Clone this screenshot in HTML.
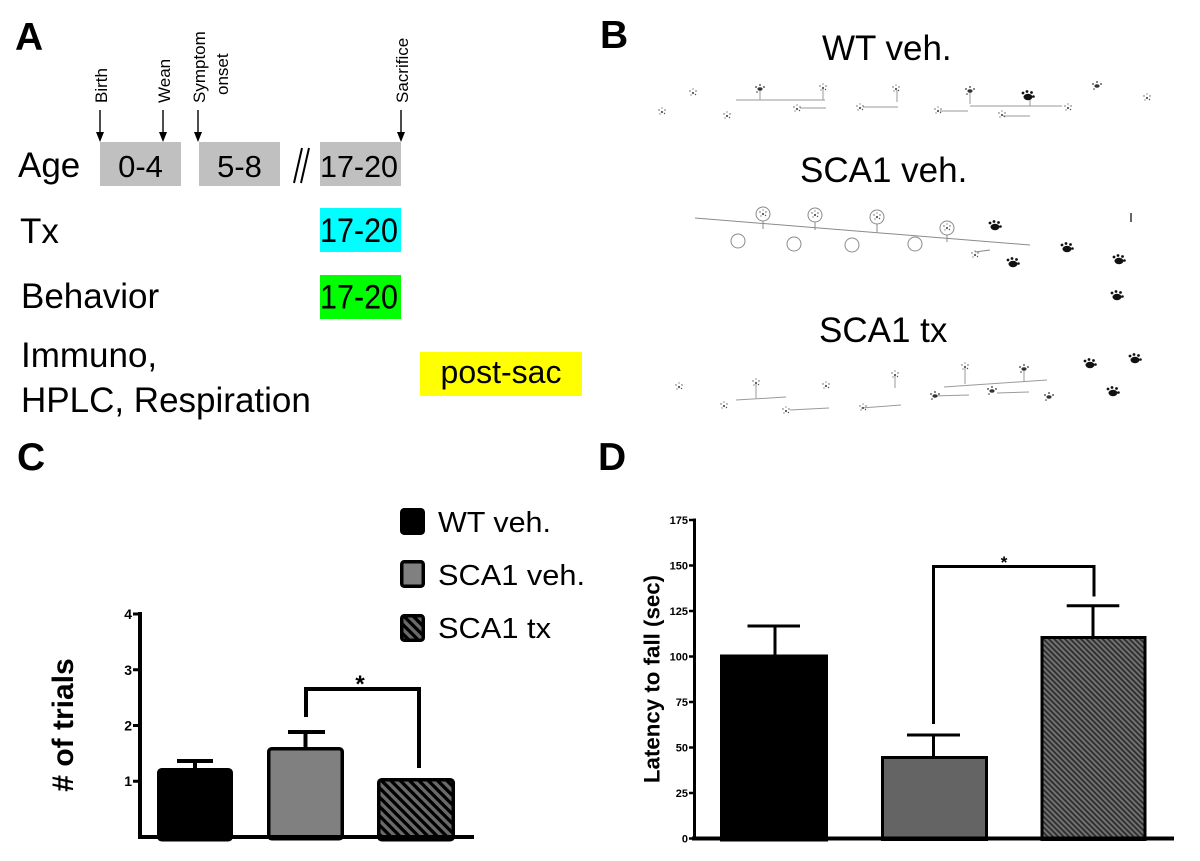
<!DOCTYPE html>
<html>
<head>
<meta charset="utf-8">
<style>
  html,body{margin:0;padding:0;background:#fff;}
  svg{display:block;}
  text{font-family:"Liberation Sans",Arial,sans-serif;}
</style>
</head>
<body>
<svg width="1200" height="861" viewBox="0 0 1200 861" xmlns="http://www.w3.org/2000/svg">
  <defs>
    <pattern id="hC" patternUnits="userSpaceOnUse" width="6.6" height="10" patternTransform="rotate(-45)">
      <rect width="6.6" height="10" fill="#6a6a6a"/>
      <rect width="3.3" height="10" fill="#000"/>
    </pattern>
    <pattern id="hD" patternUnits="userSpaceOnUse" width="3.8" height="10" patternTransform="rotate(-45)">
      <rect width="3.8" height="10" fill="#727272"/>
      <rect width="1.9" height="10" fill="#303030"/>
    </pattern>
    <g id="pawL" fill="#555">
      <circle cx="0" cy="0" r="1.1"/>
      <circle cx="-3" cy="-2" r="0.7"/>
      <circle cx="3" cy="-2" r="0.7"/>
      <circle cx="-2" cy="2" r="0.6"/>
      <circle cx="2.5" cy="1.5" r="0.7"/>
      <circle cx="0" cy="-4" r="0.6"/>
    </g>
    <g id="pawM" fill="#333">
      <ellipse cx="0" cy="0" rx="2.6" ry="1.7"/>
      <circle cx="-4" cy="-2" r="0.9"/>
      <circle cx="4" cy="-2" r="0.9"/>
      <circle cx="-3" cy="3" r="0.8"/>
      <circle cx="0" cy="-4" r="0.9"/>
    </g>
    <g id="pawD" fill="#111">
      <ellipse cx="0" cy="0" rx="4.5" ry="3.2"/>
      <circle cx="-5" cy="-4" r="1.4"/>
      <circle cx="-1" cy="-5.5" r="1.4"/>
      <circle cx="3.5" cy="-4.5" r="1.4"/>
      <circle cx="5.5" cy="-0.5" r="1.3"/>
    </g>
  </defs>

  <rect width="1200" height="861" fill="#fff"/>

  <!-- ================= PANEL A ================= -->
  <text x="15" y="50" font-size="39" font-weight="bold">A</text>

  <g font-size="17">
    <text transform="translate(107,103) rotate(-90)">Birth</text>
    <text transform="translate(170,103) rotate(-90)">Wean</text>
    <text transform="translate(205,103) rotate(-90)">Symptom</text>
    <text transform="translate(228,95) rotate(-90)">onset</text>
    <text transform="translate(408,103) rotate(-90)">Sacrifice</text>
  </g>
  <g stroke="#000" stroke-width="1.4">
    <line x1="100" y1="110" x2="100" y2="134"/>
    <line x1="163" y1="110" x2="163" y2="134"/>
    <line x1="198" y1="110" x2="198" y2="134"/>
    <line x1="401" y1="110" x2="401" y2="134"/>
  </g>
  <g fill="#000">
    <polygon points="96,132 104,132 100,142"/>
    <polygon points="159,132 167,132 163,142"/>
    <polygon points="194,132 202,132 198,142"/>
    <polygon points="397,132 405,132 401,142"/>
  </g>

  <text x="18" y="177" font-size="35">Age</text>
  <rect x="100" y="142" width="81" height="44" fill="#c0c0c0"/>
  <rect x="199" y="142" width="81" height="44" fill="#c0c0c0"/>
  <rect x="320" y="142" width="81" height="44" fill="#c0c0c0"/>
  <text x="140.5" y="177" font-size="31" text-anchor="middle">0-4</text>
  <text x="239.5" y="177" font-size="31" text-anchor="middle">5-8</text>
  <text x="320" y="177" font-size="31" textLength="78" lengthAdjust="spacingAndGlyphs">17-20</text>
  <g stroke="#000" stroke-width="2">
    <line x1="294" y1="183" x2="302" y2="148"/>
    <line x1="301" y1="183" x2="309" y2="148"/>
  </g>

  <text x="20" y="243" font-size="35">Tx</text>
  <rect x="320" y="208" width="81" height="44" fill="#00ffff"/>
  <text x="320" y="242" font-size="34" textLength="78" lengthAdjust="spacingAndGlyphs">17-20</text>

  <text x="21" y="308" font-size="35">Behavior</text>
  <rect x="320" y="275" width="81" height="44" fill="#00ff00"/>
  <text x="320" y="308.5" font-size="34" textLength="78" lengthAdjust="spacingAndGlyphs">17-20</text>

  <text x="21" y="367" font-size="35">Immuno,</text>
  <text x="21" y="412" font-size="35">HPLC, Respiration</text>
  <rect x="420" y="352" width="162" height="44" fill="#ffff00"/>
  <text x="501" y="383" font-size="32" text-anchor="middle">post-sac</text>

  <!-- ================= PANEL B ================= -->
  <text x="600" y="48" font-size="39" font-weight="bold">B</text>
  <text x="822" y="60" font-size="35">WT veh.</text>
  <text x="800" y="182" font-size="35">SCA1 veh.</text>
  <text x="819" y="342" font-size="35">SCA1 tx</text>

  <g stroke="#9a9a9a" stroke-width="1" fill="none">
    <line x1="736" y1="100" x2="825" y2="100"/>
    <line x1="800" y1="108" x2="826" y2="108"/>
    <line x1="863" y1="107" x2="898" y2="107"/>
    <line x1="940" y1="111" x2="968" y2="111"/>
    <line x1="970" y1="106" x2="1062" y2="106"/>
    <line x1="1003" y1="116" x2="1030" y2="116"/>
    <line x1="760" y1="90" x2="760" y2="100"/>
    <line x1="823" y1="88" x2="823" y2="100"/>
    <line x1="897" y1="90" x2="897" y2="102"/>
    <line x1="970" y1="92" x2="970" y2="104"/>
    <line x1="1030" y1="97" x2="1030" y2="106"/>
  </g>
  <use href="#pawM" x="760" y="89"/>
  <use href="#pawL" x="823" y="88"/>
  <use href="#pawL" x="896" y="89"/>
  <use href="#pawM" x="970" y="91"/>
  <use href="#pawD" x="1028" y="97"/>
  <use href="#pawM" x="1097" y="86"/>
  <use href="#pawL" x="1147" y="98"/>
  <use href="#pawL" x="693" y="93"/>
  <use href="#pawL" x="727" y="116"/>
  <use href="#pawL" x="662" y="112"/>
  <use href="#pawL" x="797" y="109"/>
  <use href="#pawL" x="860" y="108"/>
  <use href="#pawL" x="938" y="111"/>
  <use href="#pawL" x="1068" y="108"/>
  <use href="#pawL" x="1002" y="115"/>

  <g stroke="#8a8a8a" stroke-width="1" fill="none">
    <line x1="695" y1="218" x2="1030" y2="245"/>
    <circle cx="763" cy="214" r="7"/>
    <circle cx="815" cy="215" r="7"/>
    <circle cx="877" cy="217" r="7"/>
    <circle cx="947" cy="228" r="7"/>
    <circle cx="738" cy="241" r="7"/>
    <circle cx="794" cy="244" r="7"/>
    <circle cx="852" cy="245" r="7"/>
    <circle cx="915" cy="244" r="7"/>
    <line x1="763" y1="221" x2="763" y2="229"/>
    <line x1="815" y1="222" x2="815" y2="230"/>
    <line x1="877" y1="224" x2="877" y2="232"/>
    <line x1="947" y1="235" x2="947" y2="242"/>
    <line x1="975" y1="252" x2="990" y2="250"/>
  </g>
  <use href="#pawL" x="763" y="214"/>
  <use href="#pawL" x="815" y="215"/>
  <use href="#pawL" x="877" y="217"/>
  <use href="#pawL" x="947" y="228"/>
  <use href="#pawD" x="995" y="227"/>
  <use href="#pawL" x="975" y="255"/>
  <use href="#pawD" x="1013" y="264"/>
  <use href="#pawD" x="1067" y="249"/>
  <use href="#pawD" x="1119" y="261"/>
  <use href="#pawD" x="1117" y="297"/>
  <line x1="1131" y1="213" x2="1131" y2="222" stroke="#333" stroke-width="1.5"/>

  <g stroke="#9a9a9a" stroke-width="1" fill="none">
    <line x1="736" y1="400" x2="786" y2="397"/>
    <line x1="790" y1="410" x2="829" y2="408"/>
    <line x1="861" y1="408" x2="901" y2="405"/>
    <line x1="933" y1="396" x2="969" y2="395"/>
    <line x1="944" y1="387" x2="1047" y2="380"/>
    <line x1="997" y1="393" x2="1029" y2="392"/>
    <line x1="756" y1="383" x2="756" y2="398"/>
    <line x1="895" y1="375" x2="895" y2="388"/>
    <line x1="965" y1="367" x2="965" y2="384"/>
    <line x1="1024" y1="370" x2="1024" y2="382"/>
  </g>
  <use href="#pawL" x="679" y="387"/>
  <use href="#pawL" x="756" y="383"/>
  <use href="#pawL" x="724" y="406"/>
  <use href="#pawL" x="826" y="386"/>
  <use href="#pawL" x="786" y="411"/>
  <use href="#pawL" x="895" y="375"/>
  <use href="#pawL" x="863" y="408"/>
  <use href="#pawL" x="965" y="367"/>
  <use href="#pawM" x="935" y="396"/>
  <use href="#pawM" x="1024" y="369"/>
  <use href="#pawM" x="992" y="391"/>
  <use href="#pawM" x="1049" y="397"/>
  <use href="#pawD" x="1090" y="365"/>
  <use href="#pawD" x="1135" y="360"/>
  <use href="#pawD" x="1113" y="393"/>

  <!-- ================= PANEL C ================= -->
  <text x="17" y="470" font-size="39" font-weight="bold">C</text>

  <rect x="401.75" y="509.75" width="21.5" height="23.5" rx="2.5" fill="#000" stroke="#000" stroke-width="3.5"/>
  <rect x="401.75" y="561.75" width="21.5" height="24.5" rx="2.5" fill="#808080" stroke="#000" stroke-width="3.5"/>
  <rect x="401.75" y="615.75" width="21.5" height="24.5" rx="2.5" fill="url(#hC)" stroke="#000" stroke-width="3.5"/>
  <text x="438" y="532" font-size="29" textLength="113" lengthAdjust="spacingAndGlyphs">WT veh.</text>
  <text x="438" y="585" font-size="29" textLength="147" lengthAdjust="spacingAndGlyphs">SCA1 veh.</text>
  <text x="438" y="638" font-size="29" textLength="113" lengthAdjust="spacingAndGlyphs">SCA1 tx</text>

  <text transform="translate(73,725) rotate(-90)" font-size="30" font-weight="bold" text-anchor="middle"># of trials</text>

  <rect x="158.75" y="769.75" width="72.5" height="70" rx="3" fill="#000" stroke="#000" stroke-width="3.5"/>
  <rect x="268.75" y="748.75" width="73.5" height="90" rx="3" fill="#808080" stroke="#000" stroke-width="3.5"/>
  <rect x="378.75" y="779.75" width="74.5" height="60" rx="3" fill="url(#hC)" stroke="#000" stroke-width="3.5"/>

  <g stroke="#000" stroke-width="4" fill="none">
    <line x1="195" y1="768" x2="195" y2="761"/>
    <line x1="177" y1="761" x2="213" y2="761"/>
    <line x1="305.5" y1="747" x2="305.5" y2="732"/>
    <line x1="288" y1="732" x2="325" y2="732"/>
    <path d="M306,717 V689 H419 V768"/>
  </g>
  <text x="360" y="692" font-size="24" font-weight="bold" text-anchor="middle">*</text>

  <g stroke="#000" fill="none">
    <line x1="140" y1="612" x2="140" y2="839" stroke-width="4"/>
    <line x1="138" y1="837" x2="474" y2="837" stroke-width="4"/>
    <line x1="133" y1="614" x2="140" y2="614" stroke-width="3"/>
    <line x1="133" y1="669.75" x2="140" y2="669.75" stroke-width="3"/>
    <line x1="133" y1="725.5" x2="140" y2="725.5" stroke-width="3"/>
    <line x1="133" y1="781.25" x2="140" y2="781.25" stroke-width="3"/>
  </g>
  <g font-size="14" font-weight="bold" text-anchor="end">
    <text x="132" y="619">4</text>
    <text x="132" y="675">3</text>
    <text x="132" y="730.5">2</text>
    <text x="132" y="786">1</text>
  </g>

  <!-- ================= PANEL D ================= -->
  <text x="598" y="470" font-size="39" font-weight="bold">D</text>

  <text transform="translate(659.5,679) rotate(-90)" font-size="22.3" font-weight="bold" text-anchor="middle">Latency to fall (sec)</text>

  <rect x="721.5" y="656" width="105" height="184" fill="#000" stroke="#000" stroke-width="3"/>
  <rect x="882.5" y="757.5" width="104" height="82" fill="#646464" stroke="#000" stroke-width="3"/>
  <rect x="1042" y="637.5" width="103" height="202" fill="url(#hD)" stroke="#000" stroke-width="3"/>

  <g stroke="#000" stroke-width="3" fill="none">
    <line x1="775" y1="655" x2="775" y2="626"/>
    <line x1="747.5" y1="626" x2="800" y2="626"/>
    <line x1="933.5" y1="756" x2="933.5" y2="735"/>
    <line x1="907" y1="735" x2="960" y2="735"/>
    <line x1="1093" y1="636" x2="1093" y2="605.7"/>
    <line x1="1066.7" y1="605.7" x2="1119.3" y2="605.7"/>
    <path d="M933.5,724 V566.5 H1094 V596.5"/>
  </g>
  <text x="1004" y="568" font-size="17" font-weight="bold" text-anchor="middle">*</text>

  <g stroke="#000" fill="none">
    <line x1="694.5" y1="518.5" x2="694.5" y2="840" stroke-width="3"/>
    <line x1="692" y1="838.5" x2="1174" y2="838.5" stroke-width="4"/>
    <g stroke-width="2.5">
      <line x1="689" y1="520" x2="695" y2="520"/>
      <line x1="689" y1="565.5" x2="695" y2="565.5"/>
      <line x1="689" y1="611" x2="695" y2="611"/>
      <line x1="689" y1="656.5" x2="695" y2="656.5"/>
      <line x1="689" y1="702" x2="695" y2="702"/>
      <line x1="689" y1="747.5" x2="695" y2="747.5"/>
      <line x1="689" y1="793" x2="695" y2="793"/>
      <line x1="689" y1="838.5" x2="695" y2="838.5"/>
    </g>
  </g>
  <g font-size="11" font-weight="bold" text-anchor="end">
    <text x="688" y="524">175</text>
    <text x="688" y="569.5">150</text>
    <text x="688" y="615">125</text>
    <text x="688" y="660.5">100</text>
    <text x="688" y="706">75</text>
    <text x="688" y="751.5">50</text>
    <text x="688" y="797">25</text>
    <text x="688" y="842.5">0</text>
  </g>
</svg>
</body>
</html>
